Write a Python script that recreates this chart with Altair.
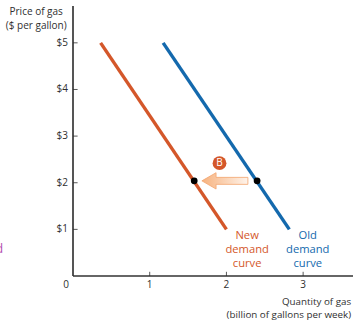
import altair as alt
import pandas as pd

# Demand schedules (quantity, price)
old_q = [1.175, 2.82]
old_p = [5, 1]
new_q = [0.36, 2.0]
new_p = [5, 1]

# Points where each curve meets the shift arrow
dot_q = [1.58, 2.40]
dot_p = [2.04, 2.04]

# Outline of the shift arrow
arrow_q = [1.68, 1.865, 1.865, 2.28]
arrow_lo = [2.04, 1.865, 1.965, 1.965]
arrow_hi = [2.04, 2.215, 2.115, 2.115]

x_ticks = [1, 2, 3]
x_label_pos = [-0.09, 1, 2, 3]
x_labels = ["0", "1", "2", "3"]
y_ticks = [1, 2, 3, 4, 5]
y_tick_labels = ["$1", "$2", "$3", "$4", "$5"]

FONT = "Open Sans"
GREY = "#2f2f2f"
ORANGE = "#d4572a"
BLUE = "#1469ad"

x_scale = alt.Scale(domain=[0, 3.65], nice=False, zero=False)
y_scale = alt.Scale(domain=[0, 5.79], nice=False, zero=False)


def X(field="q"):
    return alt.X(f"{field}:Q", scale=x_scale, axis=None)


def Y(field="p"):
    return alt.Y(f"{field}:Q", scale=y_scale, axis=None)


def curve(qs, ps, color):
    return alt.Chart(pd.DataFrame({"q": qs, "p": ps})).mark_line(
        color=color, strokeWidth=3.4
    ).encode(x=X(), y=Y())


def label(lines, q, p, color=GREY, size=10, align="center", leading=14):
    return alt.Chart(pd.DataFrame({"q": [q], "p": [p], "t": [lines]})).mark_text(
        font=FONT, fontSize=size, color=color, align=align, baseline="middle", lineHeight=leading
    ).encode(x=X(), y=Y(), text="t:N")


# Heavy spines
y_axis = alt.Chart(pd.DataFrame({"q": [0], "p": [0], "p2": [5.79]})).mark_rule(
    color="#555555", strokeWidth=2
).encode(x=X(), y=Y(), y2="p2:Q")
x_axis = alt.Chart(pd.DataFrame({"q": [0], "q2": [3.65], "p": [0]})).mark_rule(
    color="#333333", strokeWidth=1.4
).encode(x=X(), x2="q2:Q", y=Y())

# Ticks and their labels
x_tick_df = pd.DataFrame({"q": x_ticks, "p": [0] * 3, "p2": [0.09] * 3})
x_tick_marks = alt.Chart(x_tick_df).mark_rule(color=GREY, strokeWidth=0.8).encode(x=X(), y=Y(), y2="p2:Q")
x_tick_text = alt.Chart(pd.DataFrame({"q": x_label_pos, "p": [-0.2] * 4, "t": x_labels})).mark_text(
    font=FONT, fontSize=10, color=GREY, baseline="middle"
).encode(x=X(), y=Y(), text="t:N")

y_tick_df = pd.DataFrame({"q": [0] * 5, "q2": [0.06] * 5, "p": y_ticks, "t": y_tick_labels})
y_tick_marks = alt.Chart(y_tick_df).mark_rule(color=GREY, strokeWidth=0.8).encode(x=X(), x2="q2:Q", y=Y())
y_tick_text = alt.Chart(y_tick_df).mark_text(
    font=FONT, fontSize=10, color=GREY, align="right", baseline="middle", dx=-5
).encode(x=X(), y=Y(), text="t:N")

gradient = alt.Gradient(
    gradient="linear", x1=0, x2=1, y1=0, y2=0,
    stops=[alt.GradientStop(color="#f7b27e", offset=0), alt.GradientStop(color="#fef3ea", offset=1)],
)
arrow = alt.Chart(pd.DataFrame({"q": arrow_q, "lo": arrow_lo, "hi": arrow_hi})).mark_area(
    color=gradient, stroke="#f2a56e", strokeWidth=0.8
).encode(x=X(), y=Y("lo"), y2="hi:Q")

dots = alt.Chart(pd.DataFrame({"q": dot_q, "p": dot_p})).mark_point(
    filled=True, color="#000000", size=46, opacity=1
).encode(x=X(), y=Y())

badge = alt.Chart(pd.DataFrame({"q": [1.91], "p": [2.42]})).mark_point(
    filled=True, color=ORANGE, size=190, opacity=1
).encode(x=X(), y=Y())

chart = alt.layer(
    y_axis, x_axis, x_tick_marks, y_tick_marks, x_tick_text, y_tick_text,
    curve(old_q, old_p, BLUE), curve(new_q, new_p, ORANGE),
    arrow, dots, badge,
    label("B", 1.91, 2.42, color="#ffffff", size=10),
    label(["New", "demand", "curve"], 2.27, 0.86, color=ORANGE, size=11.2),
    label(["Old", "demand", "curve"], 3.06, 0.86, color=BLUE, size=11.2),
    label(["Price of gas", "($ per gallon)"], -0.48, 5.67),
    label(["Quantity of gas", "(billion of gallons per week)"], 3.625, -0.56, size=9.8, align="right", leading=13),
    label("d", -0.91, 0.58, color="#b24bb0", size=12, align="right"),
).properties(
    width=280, height=270,
    padding={"left": 73, "top": 6, "right": 0, "bottom": 44},
    autosize=alt.AutoSizeParams(type="none"),
).configure_view(stroke=None, clip=False)

chart.save("out.html", embed_options={"renderer": "svg", "actions": False})
